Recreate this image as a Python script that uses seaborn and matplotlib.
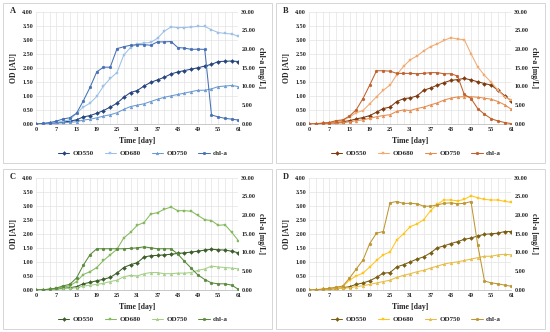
import matplotlib
matplotlib.use("Agg")
import matplotlib.pyplot as plt
import seaborn as sns
import pandas as pd
from matplotlib.patches import Rectangle

sns.set_theme(style="white")
plt.rcParams['font.family'] = ['Liberation Serif', 'DejaVu Serif']
plt.rcParams['font.weight'] = 'bold'

days = [0, 3, 5, 7, 9, 11, 13, 15, 17, 19, 21, 23, 25, 27, 29, 31, 33, 35, 37, 39,
        41, 43, 45, 47, 49, 51, 53, 55, 57, 59, 61]
series_names = ["OD550", "OD680", "OD750", "chl-a"]

# Panel A (blue)
A_od550 = [0, 0.01, 0.02, 0.04, 0.07, 0.1, 0.15, 0.25, 0.3, 0.38, 0.48, 0.6, 0.74, 0.95, 1.12, 1.19,
           1.35, 1.48, 1.57, 1.66, 1.78, 1.85, 1.9, 1.95, 2.0, 2.06, 2.12, 2.22, 2.23, 2.24, 2.22]
A_od680 = [0, 0.01, 0.03, 0.05, 0.1, 0.15, 0.38, 0.6, 0.74, 0.98, 1.35, 1.62, 1.83, 2.45, 2.72, 2.85,
           2.88, 2.9, 3.05, 3.3, 3.45, 3.43, 3.43, 3.45, 3.47, 3.47, 3.35, 3.25, 3.22, 3.2, 3.12]
A_od750 = [0, 0.01, 0.02, 0.03, 0.04, 0.06, 0.08, 0.14, 0.17, 0.22, 0.28, 0.33, 0.4, 0.52, 0.62, 0.67,
           0.72, 0.8, 0.88, 0.95, 1.0, 1.05, 1.1, 1.15, 1.2, 1.2, 1.25, 1.33, 1.35, 1.37, 1.33]
A_chla = [0.0, 0.15, 0.4, 0.75, 1.35, 1.65, 2.85, 6.15, 9.75, 13.9, 15.15, 15.15, 20.1, 20.6, 21.0, 21.15,
          21.15, 21.0, 21.9, 21.9, 22.0, 20.4, 20.25, 19.9, 19.95, 19.9, 2.4, 1.9, 1.5, 1.3, 1.05]

# Panel B (orange)
B_od550 = [0, 0.01, 0.02, 0.03, 0.05, 0.08, 0.12, 0.18, 0.23, 0.3, 0.42, 0.55, 0.6, 0.8, 0.9, 0.93,
           1.0, 1.2, 1.28, 1.38, 1.47, 1.55, 1.58, 1.62, 1.57, 1.5, 1.44, 1.38, 1.2, 1.0, 0.82]
B_od680 = [0, 0.01, 0.03, 0.05, 0.08, 0.12, 0.25, 0.4, 0.48, 0.72, 0.97, 1.2, 1.38, 1.75, 2.05, 2.28,
           2.42, 2.6, 2.75, 2.85, 2.97, 3.07, 3.02, 3.0, 2.5, 2.03, 1.73, 1.48, 1.2, 0.96, 0.85]
B_od750 = [0, 0.01, 0.01, 0.02, 0.03, 0.04, 0.08, 0.12, 0.15, 0.2, 0.26, 0.3, 0.33, 0.45, 0.5, 0.48,
           0.55, 0.6, 0.68, 0.75, 0.85, 0.92, 0.96, 0.97, 0.97, 0.95, 0.92, 0.88, 0.8, 0.68, 0.52]
B_chla = [0, 0.1, 0.2, 0.4, 0.9, 1.1, 2.1, 3.8, 6.8, 10.4, 14.2, 14.2, 14.1, 13.5, 13.5, 13.5,
          13.4, 13.5, 13.7, 13.7, 13.4, 13.4, 12.8, 7.9, 6.8, 4.1, 2.6, 1.4, 0.8, 0.4, 0.1]

# Panel C (green)
C_od550 = [0, 0.01, 0.02, 0.04, 0.06, 0.08, 0.12, 0.22, 0.27, 0.33, 0.38, 0.45, 0.6, 0.8, 0.9, 0.97,
           1.17, 1.22, 1.23, 1.25, 1.27, 1.3, 1.32, 1.35, 1.38, 1.42, 1.45, 1.43, 1.42, 1.38, 1.32]
C_od680 = [0, 0.01, 0.03, 0.06, 0.1, 0.15, 0.3, 0.55, 0.65, 0.8, 1.05, 1.25, 1.45, 1.85, 2.05, 2.3,
           2.4, 2.7, 2.75, 2.87, 2.95, 2.82, 2.82, 2.8, 2.65, 2.5, 2.47, 2.3, 2.32, 2.05, 1.75]
C_od750 = [0, 0.01, 0.02, 0.03, 0.04, 0.06, 0.08, 0.14, 0.17, 0.2, 0.24, 0.3, 0.35, 0.47, 0.52, 0.5,
           0.58, 0.62, 0.62, 0.58, 0.58, 0.6, 0.6, 0.62, 0.7, 0.75, 0.85, 0.82, 0.8, 0.78, 0.75]
C_chla = [0, 0.1, 0.2, 0.5, 1.1, 1.5, 3.2, 6.6, 9.4, 11.0, 11.0, 11.0, 11.0, 11.0, 11.1, 11.25,
          11.5, 11.25, 11.0, 11.0, 11.0, 9.6, 7.65, 5.8, 4.0, 2.8, 1.9, 1.65, 1.65, 1.3, 0.15]

# Panel D (gold)
D_od550 = [0, 0.01, 0.02, 0.03, 0.05, 0.08, 0.12, 0.2, 0.25, 0.33, 0.45, 0.6, 0.62, 0.82, 0.9, 1.0,
           1.1, 1.18, 1.32, 1.5, 1.57, 1.65, 1.72, 1.8, 1.85, 1.92, 1.98, 2.0, 2.02, 2.08, 2.08]
D_od680 = [0, 0.01, 0.03, 0.05, 0.08, 0.12, 0.35, 0.5, 0.6, 0.82, 1.05, 1.25, 1.35, 1.78, 2.0, 2.25,
           2.35, 2.5, 2.82, 3.05, 3.2, 3.2, 3.17, 3.22, 3.35, 3.28, 3.22, 3.2, 3.2, 3.15, 3.12]
D_od750 = [0, 0.01, 0.02, 0.03, 0.04, 0.06, 0.08, 0.12, 0.15, 0.2, 0.25, 0.3, 0.35, 0.45, 0.52, 0.58,
           0.65, 0.7, 0.78, 0.85, 0.92, 0.97, 1.0, 1.05, 1.1, 1.15, 1.2, 1.2, 1.25, 1.27, 1.25]
D_chla = [0, 0.1, 0.2, 0.45, 0.75, 1.05, 3.15, 5.6, 8.0, 12.4, 15.15, 15.6, 23.25, 23.6, 23.1, 23.1,
          23.0, 22.35, 22.35, 22.7, 23.1, 23.25, 23.0, 23.1, 23.6, 12.0, 2.4, 1.9, 1.65, 1.3, 1.0]

panels = [
    ("A", A_od550, A_od680, A_od750, A_chla, ["#25457E", "#9CC1E8", "#6A9AD2", "#4670B5"]),
    ("B", B_od550, B_od680, B_od750, B_chla, ["#7F3A10", "#F2AA70", "#E58B4E", "#C0602A"]),
    ("C", C_od550, C_od680, C_od750, C_chla, ["#3C5E2A", "#84BA5E", "#A3CF86", "#5A8A3C"]),
    ("D", D_od550, D_od680, D_od750, D_chla, ["#7A5E12", "#FFC519", "#E7BC45", "#BE9630"]),
]
markers = ["D", "s", "^", "o"]

W, H = 550, 332
fig = plt.figure(figsize=(W / 100, H / 100), dpi=100)
fig.patch.set_facecolor("white")

def fx(px):
    return px / W

def fy(py):
    return 1 - py / H

origins = [(0, 0), (273, 0), (0, 166), (273, 166)]
x_idx = list(range(len(days)))
tick_pos = x_idx[::3]
tick_lab = [str(d) for d in days[::3]]

for (ox, oy), (letter, s550, s680, s750, chla, cols) in zip(origins, panels):
    fig.add_artist(Rectangle((fx(ox + 3), fy(oy + 163)), fx(269), 160 / H,
                             transform=fig.transFigure, fill=False,
                             edgecolor="#D0D0D0", linewidth=0.6))
    left, right = ox + 36, ox + 238.5
    top, bottom = oy + 11.5, oy + 124
    ax = fig.add_axes([fx(left), fy(bottom), fx(right - left), (bottom - top) / H])
    ax2 = ax.twinx()
    df = pd.DataFrame({"x": x_idx, "OD550": s550, "OD680": s680, "OD750": s750, "chl-a": chla})
    handles = []
    for name, col, mk in zip(series_names, cols, markers):
        target = ax2 if name == "chl-a" else ax
        sns.lineplot(data=df, x="x", y=name, ax=target, color=col, marker=mk,
                     markersize=2.0, markeredgewidth=0.3, markeredgecolor=col,
                     linewidth=0.75, label=name, legend=False)
        handles.append(target.get_lines()[-1])
    ax.set_xlim(0, 30)
    ax.set_ylim(0, 4)
    ax2.set_ylim(0, 30)
    ax.set_xticks(tick_pos)
    ax.set_xticklabels(tick_lab)
    ax.set_xticks(x_idx, minor=True)
    ax.set_yticks([0, 0.5, 1, 1.5, 2, 2.5, 3, 3.5, 4])
    ax.set_yticklabels([f"{v:.2f}" for v in ax.get_yticks()])
    ax2.set_yticks([0, 5, 10, 15, 20, 25, 30])
    ax2.set_yticklabels([f"{v:.2f}" for v in ax2.get_yticks()])
    ax.grid(True, which="both", axis="x", color="#E3E3E3", linewidth=0.5)
    ax.grid(True, which="major", axis="y", color="#E3E3E3", linewidth=0.5)
    ax.set_axisbelow(True)
    for a in (ax, ax2):
        for sp in a.spines.values():
            sp.set_visible(False)
        a.tick_params(length=0, labelsize=4.4, pad=2)
    ax.spines["bottom"].set_visible(True)
    ax.spines["bottom"].set_color("#BFBFBF")
    ax.spines["bottom"].set_linewidth(0.6)
    ax.set_xlabel("Time [day]", fontsize=5.6, fontweight="bold", labelpad=2)
    ax.set_ylabel("OD [AU]", fontsize=5.6, fontweight="bold", labelpad=3)
    ax2.set_ylabel("chl-a [mg/L]", fontsize=5.6, fontweight="bold", rotation=-90, labelpad=7)
    ax2.set_xlabel("")
    fig.text(fx(ox + 10), fy(oy + 11), letter, fontsize=6, fontweight="bold", ha="left", va="center")
    fig.legend(handles, series_names, loc="center", ncol=4,
               bbox_to_anchor=(fx(ox + 143), fy(oy + 153)), frameon=False,
               fontsize=5.0, handlelength=1.6, columnspacing=1.6, handletextpad=0.5,
               borderaxespad=0, borderpad=0)

fig.savefig("out.png", dpi=100, facecolor="white")
